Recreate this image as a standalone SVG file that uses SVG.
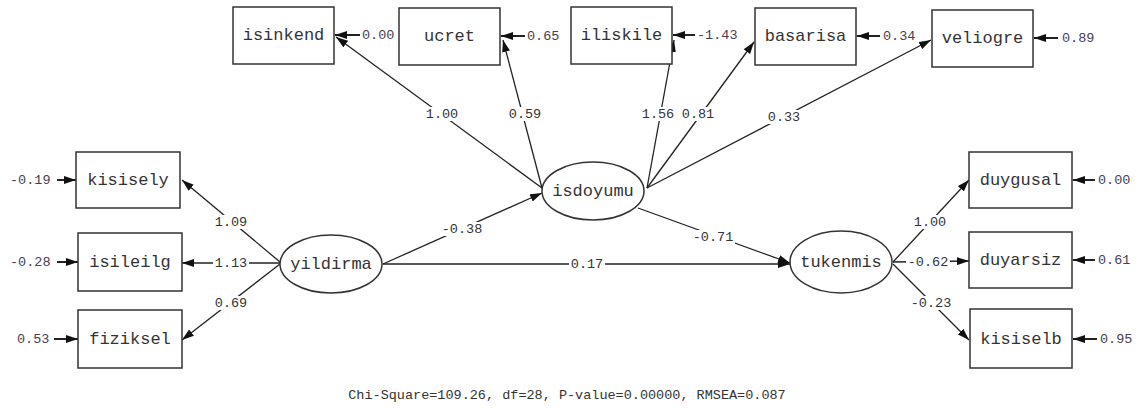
<svg xmlns="http://www.w3.org/2000/svg" width="1141" height="411" viewBox="0 0 1141 411">
<style>
.bx{fill:#fff;stroke:#333;stroke-width:1.5}
.el{fill:#fff;stroke:#333;stroke-width:1.5}
.nt{font-family:"Liberation Mono",monospace;font-size:17px;fill:#333;text-anchor:middle;dominant-baseline:central}
.ln{stroke:#222;stroke-width:1.3;fill:none;marker-end:url(#ah)}
.er{stroke:#222;stroke-width:2;fill:none;marker-end:url(#ah)}
.bg{fill:#fff;stroke:none}
.lb{font-family:"Liberation Mono",monospace;font-size:13.5px;fill:#333;text-anchor:middle;dominant-baseline:central}
.el-t{font-family:"Liberation Mono",monospace;font-size:13.5px;fill:#4a3d50;dominant-baseline:central}
.ft{font-family:"Liberation Mono",monospace;font-size:13.5px;fill:#333;text-anchor:middle}
</style>
<defs>
<marker id="ah" viewBox="0 0 12 8" refX="12" refY="4" markerWidth="12" markerHeight="8" markerUnits="userSpaceOnUse" orient="auto">
<path d="M0,0 L12,4 L0,8 z" fill="#111"/>
</marker>
</defs>
<rect width="1141" height="411" fill="#fff"/>

<g id="connectors">
<line class="ln" x1="542" y1="188" x2="336" y2="37"/>
<line class="ln" x1="542" y1="188" x2="503" y2="40"/>
<line class="ln" x1="647" y1="188" x2="674" y2="40"/>
<line class="ln" x1="647" y1="188" x2="754" y2="42"/>
<line class="ln" x1="647" y1="188" x2="931" y2="40"/>
<line class="ln" x1="383" y1="264" x2="542" y2="193"/>
<line class="ln" x1="638" y1="208" x2="790" y2="263"/>
<line class="ln" x1="383" y1="264" x2="790" y2="264"/>
<line class="ln" x1="280" y1="262" x2="182" y2="180"/>
<line class="ln" x1="280" y1="263" x2="182" y2="263"/>
<line class="ln" x1="280" y1="264" x2="182" y2="340"/>
<line class="ln" x1="893" y1="262" x2="969" y2="180"/>
<line class="ln" x1="893" y1="262" x2="969" y2="261"/>
<line class="ln" x1="893" y1="264" x2="969" y2="340"/>
<line class="er" x1="360" y1="35" x2="335" y2="35"/>
<line class="er" x1="525" y1="36" x2="501" y2="36"/>
<line class="er" x1="695" y1="35" x2="673" y2="35"/>
<line class="er" x1="880" y1="36" x2="857" y2="36"/>
<line class="er" x1="1058" y1="38" x2="1034" y2="38"/>
<line class="er" x1="57" y1="180" x2="76" y2="180"/>
<line class="er" x1="57" y1="262" x2="78" y2="262"/>
<line class="er" x1="54" y1="339" x2="78" y2="339"/>
<line class="er" x1="1095" y1="180" x2="1073" y2="180"/>
<line class="er" x1="1095" y1="260" x2="1073" y2="260"/>
<line class="er" x1="1097" y1="339" x2="1073" y2="339"/>
<rect class="bg" x="424" y="107" width="36" height="14"/>
<rect class="bg" x="507" y="107" width="36" height="14"/>
<rect class="bg" x="640" y="107" width="36" height="14"/>
<rect class="bg" x="680" y="107" width="36" height="14"/>
<rect class="bg" x="766" y="110" width="36" height="14"/>
<rect class="bg" x="440" y="222" width="44" height="14"/>
<rect class="bg" x="691" y="230" width="44" height="14"/>
<rect class="bg" x="569" y="257" width="36" height="14"/>
<rect class="bg" x="213" y="215" width="36" height="14"/>
<rect class="bg" x="213" y="256" width="36" height="14"/>
<rect class="bg" x="213" y="296" width="36" height="14"/>
<rect class="bg" x="912" y="215" width="36" height="14"/>
<rect class="bg" x="906" y="255" width="44" height="14"/>
<rect class="bg" x="909" y="296" width="44" height="14"/>
<text class="lb" x="442" y="114">1.00</text>
<text class="lb" x="525" y="114">0.59</text>
<text class="lb" x="658" y="114">1.56</text>
<text class="lb" x="698" y="114">0.81</text>
<text class="lb" x="784" y="117">0.33</text>
<text class="lb" x="462" y="229">-0.38</text>
<text class="lb" x="713" y="237">-0.71</text>
<text class="lb" x="587" y="264">0.17</text>
<text class="lb" x="231" y="222">1.09</text>
<text class="lb" x="231" y="263">1.13</text>
<text class="lb" x="231" y="303">0.69</text>
<text class="lb" x="930" y="222">1.00</text>
<text class="lb" x="928" y="262">-0.62</text>
<text class="lb" x="931" y="303">-0.23</text>
</g>

<g id="err-labels">
<text class="el-t" x="362" y="35">0.00</text>
<text class="el-t" x="527" y="36">0.65</text>
<text class="el-t" x="697" y="35">-1.43</text>
<text class="el-t" x="883" y="36">0.34</text>
<text class="el-t" x="1062" y="38">0.89</text>
<text class="el-t" x="10" y="180">-0.19</text>
<text class="el-t" x="10" y="262">-0.28</text>
<text class="el-t" x="17" y="339">0.53</text>
<text class="el-t" x="1098" y="180">0.00</text>
<text class="el-t" x="1098" y="260">0.61</text>
<text class="el-t" x="1100" y="339">0.95</text>
</g>

<g id="isinkend"><rect class="bx" x="233" y="7" width="101" height="57"/><text class="nt" x="283.5" y="35">isinkend</text></g>
<g id="ucret"><rect class="bx" x="399" y="8" width="101" height="57"/><text class="nt" x="449.5" y="36">ucret</text></g>
<g id="iliskile"><rect class="bx" x="571" y="7" width="101" height="57"/><text class="nt" x="621.5" y="35">iliskile</text></g>
<g id="basarisa"><rect class="bx" x="755" y="8" width="101" height="57"/><text class="nt" x="805.5" y="36">basarisa</text></g>
<g id="veliogre"><rect class="bx" x="932" y="10" width="101" height="57"/><text class="nt" x="982.5" y="38">veliogre</text></g>
<g id="kisisely"><rect class="bx" x="76" y="152" width="104" height="56"/><text class="nt" x="128" y="180">kisisely</text></g>
<g id="isileilg"><rect class="bx" x="78" y="233" width="104" height="58"/><text class="nt" x="130" y="262">isileilg</text></g>
<g id="fiziksel"><rect class="bx" x="78" y="310" width="104" height="58"/><text class="nt" x="130" y="339">fiziksel</text></g>
<g id="duygusal"><rect class="bx" x="969" y="152" width="103" height="56"/><text class="nt" x="1020.5" y="180">duygusal</text></g>
<g id="duyarsiz"><rect class="bx" x="969" y="232" width="103" height="56"/><text class="nt" x="1020.5" y="260">duyarsiz</text></g>
<g id="kisiselb"><rect class="bx" x="970" y="309" width="102" height="59"/><text class="nt" x="1021" y="339">kisiselb</text></g>
<g id="yildirma"><ellipse class="el" cx="331" cy="264" rx="51" ry="29"/><text class="nt" x="331" y="264">yildirma</text></g>
<g id="isdoyumu"><ellipse class="el" cx="593" cy="191" rx="51" ry="29"/><text class="nt" x="593" y="191">isdoyumu</text></g>
<g id="tukenmis"><ellipse class="el" cx="841" cy="262" rx="51" ry="31"/><text class="nt" x="841" y="262">tukenmis</text></g>

<text class="ft" x="567" y="399">Chi-Square=109.26, df=28, P-value=0.00000, RMSEA=0.087</text>
</svg>
